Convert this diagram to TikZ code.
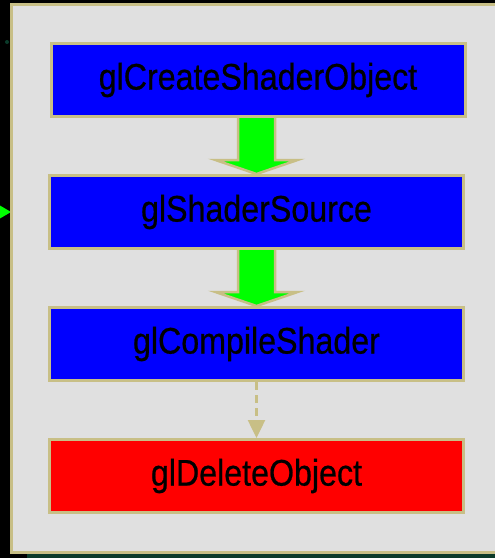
\documentclass[tikz,border=0pt]{standalone}
\usepackage{fontspec}
\setmainfont{Liberation Sans}[FakeStretch=0.87, FakeBold=0.6]
\usepackage{tikz}
\usetikzlibrary{arrows.meta, calc}
\definecolor{panelgray}{HTML}{E0E0E0}
\definecolor{tanline}{HTML}{C8BF86}
\definecolor{darkgreen}{HTML}{0B3B2A}
\definecolor{callblue}{HTML}{0000FF}
\definecolor{callred}{HTML}{FF0000}
\definecolor{arrowgreen}{HTML}{00FF00}

\newcommand{\fatarrow}[2]{%
  \filldraw[fatarrow] ($(#1.south -| #2.north)+(-18.5,0)$) -- ($(#2.north)+(-18.5,-14)$)
    -- ($(#2.north)+(-41,-14)$) -- (#2.north) -- ($(#2.north)+(41,-14)$)
    -- ($(#2.north)+(18.5,-14)$) -- ($(#1.south -| #2.north)+(18.5,0)$);}

\begin{document}
\begin{tikzpicture}[x=1pt, y=-1pt,
    callbox/.style={draw=tanline, line width=3pt, minimum width=414pt,
      minimum height=73pt, inner sep=0pt, text=black,
      font=\fontsize{37}{40}\selectfont},
    fatarrow/.style={fill=arrowgreen, draw=tanline, line width=2.5pt,
      line join=miter},
    weakarrow/.style={draw=tanline, line width=2.5pt, dash pattern=on 8pt off 5pt,
      -{Triangle[width=17pt, length=18pt]}}
]

  % Hintergrund
  \useasboundingbox (0,0) rectangle (495,558);
  \clip (0,0) rectangle (495,558);
  \fill[black] (0,0) rectangle (495,558);
  \fill[darkgreen] (27,554) rectangle (495,558);
  \fill[darkgreen] (7,42) circle (2);
  \fill[arrowgreen] (-6,202) -- (11,212) -- (-6,222) -- cycle;

  % Panel
  \filldraw[fill=panelgray, draw=tanline, line width=3pt] (11.5,4.5) rectangle (505,552.5);

  % Aufrufe
  \node[callbox, fill=callblue] (create) at (258,80) {glCreateShaderObject};
  \node[callbox, fill=callblue] (source) at (256.5,212) {glShaderSource};
  \node[callbox, fill=callblue] (compile) at (256.5,344) {glCompileShader};
  \node[callbox, fill=callred] (delete) at (256.5,476) {glDeleteObject};

  % Pfeile
  \fatarrow{create}{source}
  \fatarrow{source}{compile}
  \draw[weakarrow] (compile.south) -- (delete.north);

\end{tikzpicture}
\end{document}
